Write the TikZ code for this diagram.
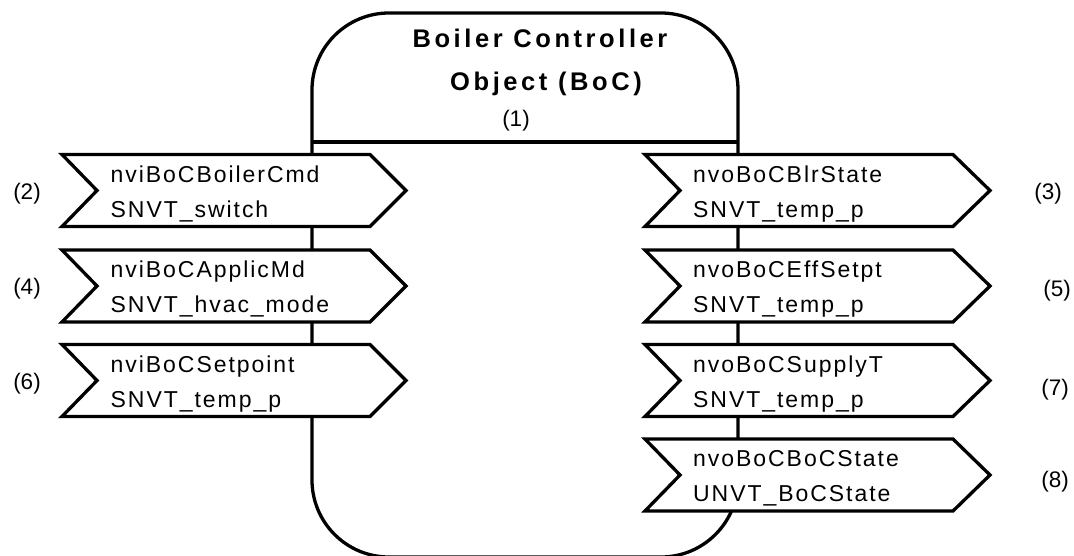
\documentclass[tikz,border=0pt]{standalone}
\usepackage{fontspec}
\setmainfont{Liberation Sans}
\newfontfamily\boxfont[LetterSpace=8.5]{Liberation Sans}
\newfontfamily\titlefont[LetterSpace=14]{Liberation Sans}
\begin{document}
\begin{tikzpicture}[x=1pt,y=-1pt,
  outline/.style={line width=3.3pt, line join=miter},
  pinbox/.style={outline, fill=white},
  boxtext/.style={font=\boxfont\fontsize{23}{23}\selectfont, anchor=base west, inner sep=0pt},
  numlabel/.style={font=\fontsize{22.5}{22.5}\selectfont, inner sep=0pt},
  titletext/.style={font=\titlefont\bfseries\fontsize{25.5}{25.5}\selectfont, anchor=base, inner sep=0pt}]
\useasboundingbox (0,0) rectangle (1074,555);
\clip (0,0) rectangle (1074,555);
% main object outline
\draw[outline, rounded corners=77] (312,13) rectangle (738,557);
\coordinate (divL) at (312,142);
\coordinate (divR) at (738,142);
\draw[outline] (divL) -- (divR);
% title
\node[titletext] (title1) at (540,47) {Boiler Controller};
\node[titletext] (title2) at (546,90) {Object (BoC)};
\node[numlabel] (n1) at (516,121) {(1)};
% input network variables (left)
\foreach \c/\name/\type/\num/\nm in {190.5/nviBoCBoilerCmd/SNVT\_switch/(2)/a, 286/nviBoCApplicMd/SNVT\_hvac\_mode/(4)/b, 380.5/nviBoCSetpoint/SNVT\_temp\_p/(6)/c}{
  \draw[pinbox] (62,{\c-36}) -- (370,{\c-36}) -- (406,\c) -- (370,{\c+36}) -- (62,{\c+36}) -- (97,\c) -- cycle;
  \node[boxtext] (in\nm1) at (110.5,{\c-8.5}) {\name};
  \node[boxtext] (in\nm2) at (110.5,{\c+26.5}) {\type};
  \node[numlabel] (inl\nm) at (27,{\c+3}) {\num};
}
% output network variables (right)
\foreach \c/\name/\type/\num/\nm in {190.5/nvoBoCBlrState/SNVT\_temp\_p/(3)/a, 286/nvoBoCEffSetpt/SNVT\_temp\_p/(5)/b, 380.5/nvoBoCSupplyT/SNVT\_temp\_p/(7)/c, 475/nvoBoCBoCState/UNVT\_BoCState/(8)/d}{
  \draw[pinbox] (645,{\c-36}) -- (953,{\c-36}) -- (990,\c) -- (953,{\c+36}) -- (645,{\c+36}) -- (680,\c) -- cycle;
  \node[boxtext] (out\nm1) at (693,{\c-8.5}) {\name};
  \node[boxtext] (out\nm2) at (693,{\c+26.5}) {\type};
}
\node[numlabel] (outla) at (1048,194) {(3)};
\node[numlabel] (outlb) at (1057,291) {(5)};
\node[numlabel] (outlc) at (1055,390) {(7)};
\node[numlabel] (outld) at (1055,482) {(8)};
\end{tikzpicture}
\end{document}
